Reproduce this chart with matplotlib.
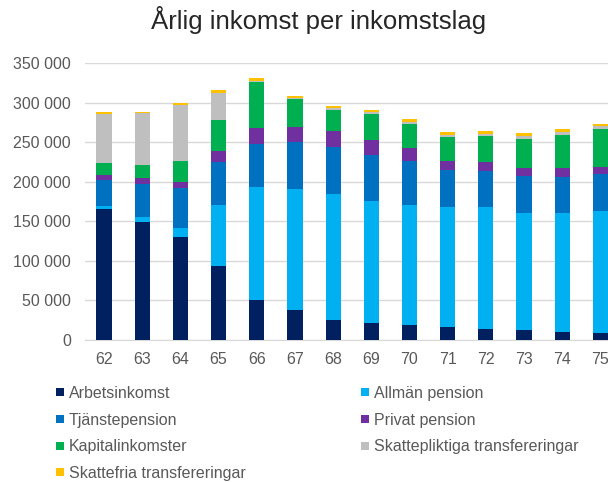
import matplotlib
matplotlib.use('Agg')
import matplotlib.pyplot as plt
from matplotlib.ticker import FuncFormatter, MultipleLocator
from matplotlib.lines import Line2D
import numpy as np

plt.rcParams['font.family'] = ['Liberation Sans', 'DejaVu Sans']

# data (kr per år)
ages = ['62', '63', '64', '65', '66', '67', '68', '69', '70', '71', '72', '73', '74', '75']
arbetsinkomst = [165300, 148800, 130300, 93200, 50300, 37600, 25800, 22000, 18600, 16000, 13500, 12200, 10100, 8900]
allman_pension = [4200, 7200, 11800, 78000, 142400, 152600, 158500, 154200, 152600, 151700, 154200, 148700, 150400, 154100]
tjanstepension = [32900, 41300, 49700, 53500, 54900, 59600, 59100, 57900, 54500, 47200, 46400, 46000, 45200, 46500]
privat_pension = [6700, 7200, 8000, 13500, 20800, 19800, 20300, 19000, 16900, 11900, 11400, 10600, 11800, 9300]
kapitalinkomster = [14300, 16400, 27000, 39600, 57000, 34300, 27100, 33000, 30400, 29500, 32100, 36300, 41400, 47200]
skattepliktiga = [62400, 65400, 69600, 34200, 2100, 2100, 2500, 2500, 2500, 2100, 2100, 3400, 3800, 4300]
skattefria = [1700, 2100, 2500, 3400, 3000, 2900, 2500, 2600, 3800, 3800, 3800, 3800, 3300, 2900]

series = [
    ('Arbetsinkomst', arbetsinkomst, '#002060'),
    ('Tjänstepension', tjanstepension, '#0070C0'),
    ('Kapitalinkomster', kapitalinkomster, '#00B050'),
    ('Skattefria transfereringar', skattefria, '#FFC000'),
    ('Allmän pension', allman_pension, '#00B0F0'),
    ('Privat pension', privat_pension, '#7030A0'),
    ('Skattepliktiga transfereringar', skattepliktiga, '#BFBFBF'),
]
# staplingsordning nerifrån och upp
stack_order = ['Arbetsinkomst', 'Allmän pension', 'Tjänstepension', 'Privat pension',
               'Kapitalinkomster', 'Skattepliktiga transfereringar', 'Skattefria transfereringar']
lookup = {name: (vals, col) for name, vals, col in series}

fig = plt.figure(figsize=(6.08, 4.82), dpi=100)
ax = fig.add_axes([85 / 608, 142 / 482, 523 / 608, 277 / 482])

x = np.arange(len(ages))
bottom = np.zeros(len(ages))
for name in stack_order:
    vals, col = lookup[name]
    ax.bar(x, vals, width=0.4, bottom=bottom, color=col, zorder=3)
    bottom += np.array(vals)

ax.set_ylim(0, 350000)
ax.set_xlim(-0.5, 13.2)
ax.yaxis.set_major_locator(MultipleLocator(50000))
ax.yaxis.set_major_formatter(FuncFormatter(lambda v, p: f'{int(v):,}'.replace(',', ' ')))
ax.set_xticks(x)
ax.set_xticklabels(ages)
ax.grid(axis='y', color='#D9D9D9', linewidth=1, zorder=0)
for s in ['top', 'right', 'left']:
    ax.spines[s].set_visible(False)
ax.spines['bottom'].set_color('#D9D9D9')
ax.tick_params(axis='both', length=0, labelsize=11.5, labelcolor='#595959')
ax.tick_params(axis='y', pad=10)
ax.tick_params(axis='x', pad=9)

fig.text(319 / 608, 1 - 20 / 482, 'Årlig inkomst per inkomstslag', ha='center', va='center',
         fontsize=18.5, color='#262626')

handles = [Line2D([], [], marker='s', linestyle='none', markersize=5.5, color=col, markeredgewidth=0)
           for name, vals, col in series]
labels = [name for name, vals, col in series]
leg = fig.legend(handles, labels, ncol=2, loc='upper left', bbox_to_anchor=(55 / 608, 1 - 386 / 482),
                 frameon=False, fontsize=11.5, handlelength=0.6, handletextpad=0.25,
                 columnspacing=7.2, labelspacing=0.73, borderaxespad=0, borderpad=0)
for t in leg.get_texts():
    t.set_color('#595959')

plt.savefig('out.png', dpi=100)
